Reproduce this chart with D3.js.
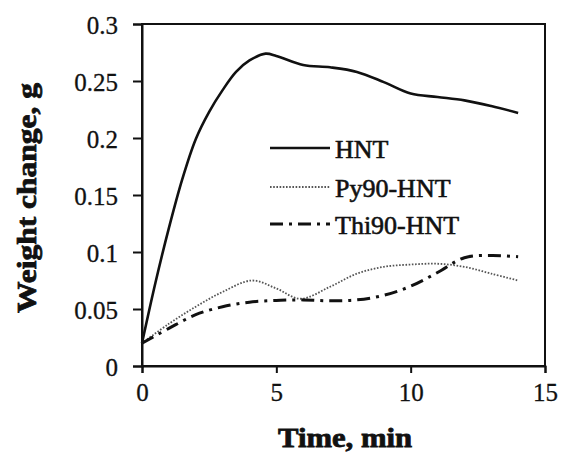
<!DOCTYPE html>
<html>
<head>
<meta charset="utf-8">
<script src="https://cdn.jsdelivr.net/npm/d3@7"></script>
<style>
  html, body { margin: 0; padding: 0; background: #fff; }
  svg { display: block; }
</style>
</head>
<body>
<svg id="chart" width="561" height="453"></svg>
<script>
// ---- data ----
const seriesNames = ["HNT", "Py90-HNT", "Thi90-HNT"];

const hntTime   = [0, 0.5, 1, 1.5, 2, 2.5, 3, 3.5, 4, 4.6, 5, 6, 7, 8, 9, 10, 11, 12, 13, 14];
const hntWeight = [0.02, 0.073, 0.121, 0.164, 0.199, 0.223, 0.242, 0.258, 0.268, 0.274, 0.272, 0.264, 0.262, 0.258, 0.249, 0.239, 0.236, 0.233, 0.228, 0.222];

const pyTime   = [0, 1, 2, 3, 4.1, 5, 5.9, 7, 8, 9, 10, 11, 12, 13, 14];
const pyWeight = [0.02, 0.037, 0.052, 0.065, 0.075, 0.068, 0.059, 0.0695, 0.081, 0.087, 0.089, 0.0897, 0.087, 0.081, 0.075];

const thiTime   = [0, 1, 2, 3, 4, 5, 6, 7, 8, 9, 10, 11, 12, 13, 14];
const thiWeight = [0.02, 0.033, 0.045, 0.052, 0.056, 0.0575, 0.058, 0.0572, 0.058, 0.062, 0.070, 0.082, 0.095, 0.097, 0.0958];

const xTicks = [0, 5, 10, 15];
const yTicks = [0, 0.05, 0.1, 0.15, 0.2, 0.25, 0.3];
const xTitle = "Time, min";
const yTitle = "Weight change, g";

// ---- layout ----
const svg = d3.select("#chart");
const mLeft = 142, mRight = 545, mTop = 24, mBottom = 366;

const x = d3.scaleLinear().domain([0, 15]).range([mLeft, mRight]);
const y = d3.scaleLinear().domain([0, 0.3]).range([mBottom, mTop]);

// frame (top & right)
svg.append("rect")
  .attr("x", mLeft).attr("y", mTop)
  .attr("width", mRight - mLeft).attr("height", mBottom - mTop)
  .attr("fill", "none").attr("stroke", "#111").attr("stroke-width", 2);

const serif = "'Liberation Serif', 'Times New Roman', serif";

const xAxis = svg.append("g")
  .attr("transform", `translate(0,${mBottom})`)
  .call(d3.axisBottom(x).tickValues(xTicks).tickFormat(d3.format("d")).tickSize(7).tickPadding(10));
const yAxis = svg.append("g")
  .attr("transform", `translate(${mLeft},0)`)
  .call(d3.axisLeft(y).tickValues(yTicks).tickFormat(d => d === 0 ? "0" : String(+d.toFixed(2))).tickSize(9).tickPadding(15));

[xAxis, yAxis].forEach(g => {
  g.select(".domain").attr("stroke", "#111").attr("stroke-width", 2);
  g.selectAll(".tick line").attr("stroke", "#111").attr("stroke-width", 2);
  g.selectAll(".tick text")
    .attr("fill", "#111")
    .attr("stroke", "#111").attr("stroke-width", 0.3)
    .style("font-family", serif)
    .style("font-size", "25px");
});
yAxis.selectAll(".tick text").attr("dy", "0.36em");

// ---- lines ----
const series = [
  { name: seriesNames[0], t: hntTime, v: hntWeight, dash: null, width: 2.6, color: "#111" },
  { name: seriesNames[1], t: pyTime,  v: pyWeight,  dash: "1.6,1.6", width: 1.8, color: "#555" },
  { name: seriesNames[2], t: thiTime, v: thiWeight, dash: "13,6,3,6", width: 3, color: "#111" }
];

const line = d3.line()
  .x(d => x(d[0]))
  .y(d => y(d[1]))
  .curve(d3.curveCatmullRom.alpha(0.5));

series.forEach(s => {
  svg.append("path")
    .datum(s.t.map((t, i) => [t, s.v[i]]))
    .attr("d", line)
    .attr("fill", "none")
    .attr("stroke", s.color)
    .attr("stroke-width", s.width)
    .attr("stroke-dasharray", s.dash)
    .attr("stroke-linejoin", "round");
});

// ---- legend ----
const legendX0 = 270, legendX1 = 330, legendY = [148, 187, 224];
series.forEach((s, i) => {
  svg.append("line")
    .attr("x1", legendX0).attr("x2", legendX1)
    .attr("y1", legendY[i]).attr("y2", legendY[i])
    .attr("stroke", s.color)
    .attr("stroke-width", s.width)
    .attr("stroke-dasharray", s.dash);
  svg.append("text")
    .attr("x", 335).attr("y", legendY[i] + 10)
    .attr("fill", "#111")
    .attr("stroke", "#111").attr("stroke-width", 0.6)
    .style("font-family", serif)
    .style("font-size", "26px")
    .text(s.name);
});

// ---- axis titles ----
svg.append("text")
  .attr("x", 345).attr("y", 447)
  .attr("text-anchor", "middle")
  .attr("textLength", 134).attr("lengthAdjust", "spacingAndGlyphs")
  .style("font-family", serif).style("font-weight", "bold").style("font-size", "27px")
  .attr("fill", "#111").attr("stroke", "#111").attr("stroke-width", 0.8)
  .text(xTitle);

svg.append("text")
  .attr("transform", "translate(36,198) rotate(-90)")
  .attr("text-anchor", "middle")
  .attr("textLength", 230).attr("lengthAdjust", "spacingAndGlyphs")
  .style("font-family", serif).style("font-weight", "bold").style("font-size", "28px")
  .attr("fill", "#111").attr("stroke", "#111").attr("stroke-width", 0.8)
  .text(yTitle);
</script>
</body>
</html>
